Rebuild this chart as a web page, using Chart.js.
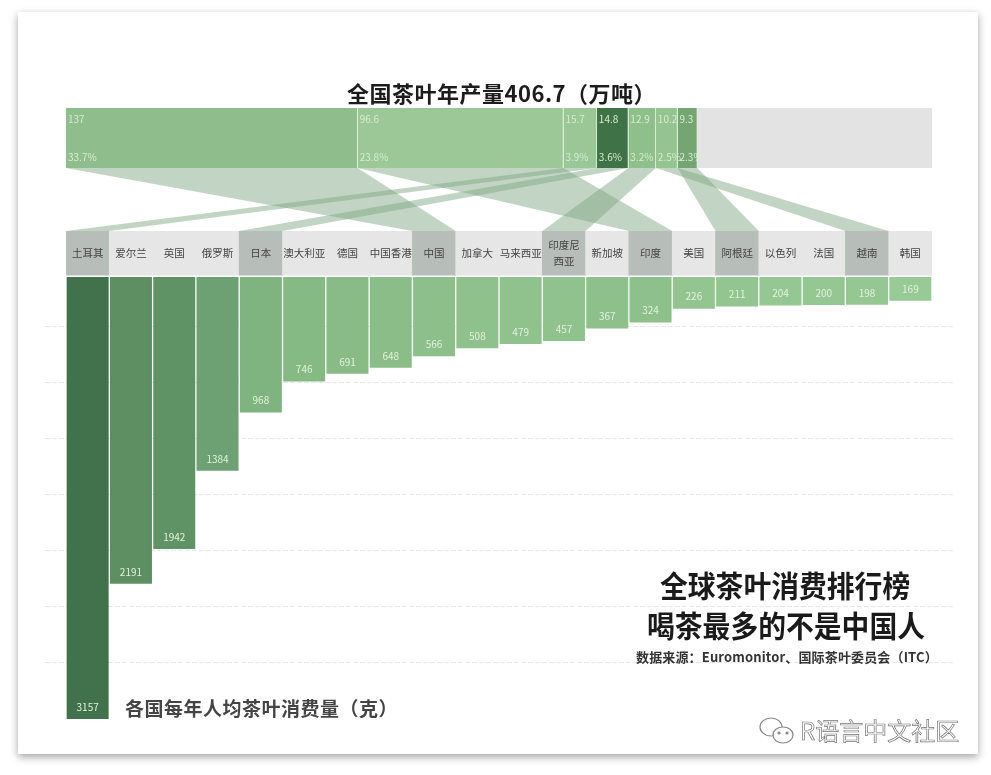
<!DOCTYPE html>
<html lang="zh">
<head>
<meta charset="utf-8">
<title>全球茶叶消费排行榜</title>
<script src="https://cdn.jsdelivr.net/npm/chart.js@4"></script>
<style>
  html, body { margin: 0; padding: 0; background: #fff; }
  body { position: relative; width: 991px; height: 775px; overflow: hidden; font-family: "Noto Sans CJK SC", sans-serif; }
  #card { position: absolute; left: 18px; top: 12px; width: 960px; height: 742px; background: #fff; box-shadow: 0 3px 8px rgba(0,0,0,.36); }
  #mainWrap { position: absolute; left: 0; top: 0; width: 991px; height: 775px; filter: blur(.45px); }
  #topWrap { position: absolute; left: 0; top: 108px; width: 991px; height: 60px; filter: blur(.45px); }
  .txt { position: absolute; white-space: nowrap; font-weight: 700; line-height: 1; }
  #title { left: 347px; top: 81px; font-size: 22px; color: #1c1c1c; letter-spacing: .5px; }
  #head1 { left: 660px; top: 571px; font-size: 27.8px; color: #1a1a1a; transform: scaleY(1.06); }
  #head2 { left: 647px; top: 611px; font-size: 27.8px; color: #1a1a1a; transform: scaleY(1.06); }
  #source { left: 636px; top: 650px; font-size: 13px; color: #333; letter-spacing: .15px; }
  #axisName { left: 125px; top: 698px; font-size: 19px; color: #444; letter-spacing: .5px; }
  #mark { left: 800px; top: 718px; font-size: 24px; font-weight: 400; color: #fff; -webkit-text-stroke: .7px #777; }
  #wechat { position: absolute; left: 758px; top: 714px; }
</style>
</head>
<body>
<div id="card"></div>
<div id="mainWrap"><canvas id="mainChart"></canvas></div>
<div id="topWrap"><canvas id="topChart"></canvas></div>
<div class="txt" id="title">全国茶叶年产量406.7（万吨）</div>
<div class="txt" id="head1">全球茶叶消费排行榜</div>
<div class="txt" id="head2">喝茶最多的不是中国人</div>
<div class="txt" id="source">数据来源：Euromonitor、国际茶叶委员会（ITC）</div>
<div class="txt" id="axisName">各国每年人均茶叶消费量（克）</div>
<svg id="wechat" width="40" height="36" fill="#fff" stroke="#888" stroke-width="1.2">
  <ellipse cx="13" cy="13" rx="11" ry="9"/>
  <ellipse cx="25" cy="21" rx="10" ry="8"/>
  <circle cx="21" cy="19" r="1" fill="#888"/>
  <circle cx="29" cy="19" r="1" fill="#888"/>
</svg>
<div class="txt" id="mark">R语言中文社区</div>

<script>
const categories = ['土耳其', '爱尔兰', '英国', '俄罗斯', '日本', '澳大利亚', '德国', '中国香港', '中国', '加拿大',
  '马来西亚', ['印度尼', '西亚'], '新加坡', '印度', '美国', '阿根廷', '以色列', '法国', '越南', '韩国'];
const perCapita = [3157, 2191, 1942, 1384, 968, 746, 691, 648, 566, 508, 479, 457, 367, 324, 226, 211, 204, 200, 198, 169];
const barColors = ['#41724b', '#5d8f63', '#5f9265', '#6da072', '#7fb37f', '#86ba85', '#88bb86', '#8abd88', '#8cbf8a', '#8fc18c',
  '#90c28d', '#90c28d', '#8dc08b', '#8dc08b', '#93c590', '#93c590', '#95c792', '#95c792', '#95c792', '#98ca95'];

const output = [137, 96.6, 15.7, 14.8, 12.9, 10.2, 9.3];
const outputShare = ['33.7%', '23.8%', '3.9%', '3.6%', '3.2%', '2.5%', '2.3%'];
const outputColors = ['#8fbd8b', '#9bc896', '#9ac795', '#3f7246', '#8fbf8b', '#95c490', '#74a573'];
const outputRest = 110.2;
const outputTotal = 406.7;
// which country column each production block flows down to
const outputTargets = ['中国', '印度', '土耳其', '日本', '印度尼西亚', '越南', '阿根廷'];

const gridValues = [350, 750, 1150, 1550, 1950, 2350, 2750];
const cellTop = -329;
const cellBottom = -14;

const flat = c => Array.isArray(c) ? c.join('') : c;
const labelFont = '"Noto Sans CJK SC", sans-serif';

// production strip
const topChart = new Chart(document.getElementById('topChart'), {
  type: 'bar',
  data: {
    labels: ['产量'],
    datasets: [
      ...output.map((v, i) => ({
        data: [v],
        backgroundColor: outputColors[i],
        borderColor: '#e4f3e0',
        borderWidth: { right: 1, left: 0, top: 0, bottom: 0 },
        borderSkipped: false
      })),
      { data: [outputRest], backgroundColor: '#e3e3e3', borderWidth: 0 }
    ]
  },
  options: {
    indexAxis: 'y',
    responsive: true,
    maintainAspectRatio: false,
    animation: false,
    layout: { padding: { left: 66, right: 59 } },
    datasets: { bar: { barPercentage: 1, categoryPercentage: 1 } },
    scales: {
      x: { display: false, stacked: true, min: 0, max: outputTotal },
      y: { display: false, stacked: true }
    },
    plugins: { legend: { display: false }, tooltip: { enabled: false } }
  },
  plugins: [{
    id: 'outputLabels',
    afterDatasetsDraw(chart) {
      const ctx = chart.ctx;
      const sx = chart.scales.x;
      const area = chart.chartArea;
      let sum = 0;
      ctx.save();
      ctx.font = '10px ' + labelFont;
      ctx.fillStyle = '#d6ecd0';
      ctx.textBaseline = 'middle';
      output.forEach((v, i) => {
        const x = sx.getPixelForValue(sum) + 2;
        ctx.fillText(String(v), x, area.top + 11);
        ctx.fillText(outputShare[i], x, area.top + 49);
        sum += v;
      });
      ctx.restore();
    }
  }]
});

const mainPlugin = {
  id: 'teaExtras',
  beforeDatasetsDraw(chart) {
    const ctx = chart.ctx;
    const sx = chart.scales.x;
    const sy = chart.scales.y;
    ctx.save();

    // grid lines run past the plot on both sides
    ctx.strokeStyle = '#e8e8e8';
    ctx.lineWidth = 1;
    ctx.setLineDash([5, 2]);
    gridValues.forEach(v => {
      const y = Math.round(sy.getPixelForValue(v)) + 0.5;
      ctx.beginPath();
      ctx.moveTo(45, y);
      ctx.lineTo(953, y);
      ctx.stroke();
    });
    ctx.setLineDash([]);

    // ribbons from the production strip to the country columns
    const tx = topChart.scales.x;
    const y0 = document.getElementById('topWrap').offsetTop + topChart.chartArea.bottom;
    const y1 = sy.getPixelForValue(cellTop);
    const half = sx.getPixelForValue(1) - sx.getPixelForValue(0);
    let sum = 0;
    ctx.fillStyle = 'rgba(128,168,132,0.48)';
    output.forEach((v, i) => {
      const cx = sx.getPixelForValue(names.indexOf(outputTargets[i]));
      ctx.beginPath();
      ctx.moveTo(tx.getPixelForValue(sum), y0);
      ctx.lineTo(tx.getPixelForValue(sum + v), y0);
      ctx.lineTo(cx + half / 2, y1);
      ctx.lineTo(cx - half / 2, y1);
      ctx.closePath();
      ctx.fill();
      sum += v;
    });
    ctx.restore();
  },
  afterDatasetsDraw(chart) {
    const ctx = chart.ctx;
    const sx = chart.scales.x;
    const sy = chart.scales.y;
    ctx.save();
    ctx.textAlign = 'center';
    ctx.textBaseline = 'middle';
    categories.forEach((c, i) => {
      const x = sx.getPixelForValue(i);
      const y = sy.getPixelForValue((cellTop + cellBottom) / 2);
      ctx.font = '10.5px ' + labelFont;
      ctx.fillStyle = '#444';
      if (Array.isArray(c)) {
        ctx.fillText(c[0], x, y - 8);
        ctx.fillText(c[1], x, y + 8);
      } else {
        ctx.fillText(c, x, y);
      }
      ctx.font = '10px ' + labelFont;
      ctx.fillStyle = '#e2f2de';
      ctx.fillText(String(perCapita[i]), x, sy.getPixelForValue(perCapita[i]) - 12);
    });
    ctx.restore();
  }
};

const names = categories.map(flat);
new Chart(document.getElementById('mainChart'), {
  type: 'bar',
  data: {
    labels: names,
    datasets: [
      {
        data: perCapita,
        backgroundColor: barColors,
        grouped: false,
        barPercentage: 0.97,
        categoryPercentage: 1
      },
      {
        data: names.map(() => [cellTop, cellBottom]),
        backgroundColor: names.map(n => outputTargets.includes(n) ? '#b7bdb8' : '#e6e6e6'),
        grouped: false,
        barPercentage: 1,
        categoryPercentage: 1
      }
    ]
  },
  options: {
    responsive: true,
    maintainAspectRatio: false,
    animation: false,
    layout: { padding: { left: 66, right: 59, top: 231, bottom: 56 } },
    scales: {
      x: { display: false },
      y: { display: false, reverse: true, min: cellTop, max: 3157 }
    },
    plugins: { legend: { display: false }, tooltip: { enabled: false } }
  },
  plugins: [mainPlugin]
});
</script>
</body>
</html>
